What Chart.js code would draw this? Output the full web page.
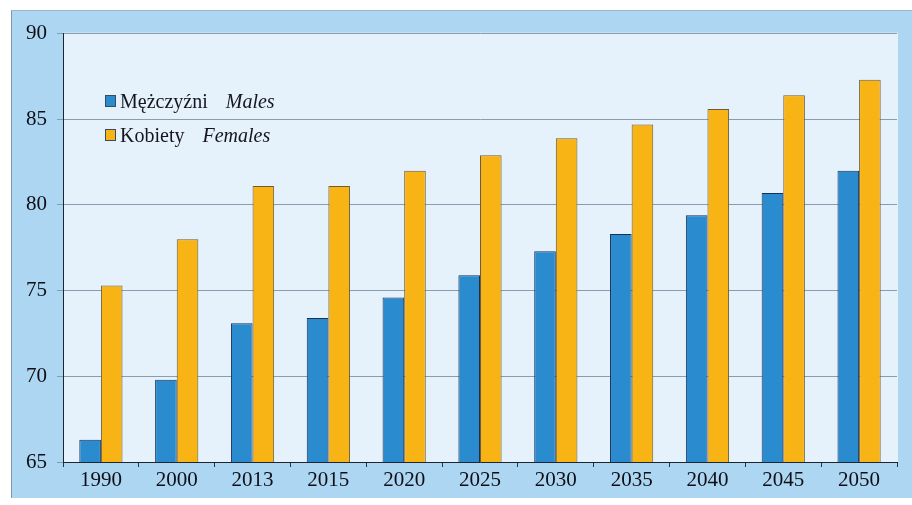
<!DOCTYPE html>
<html>
<head>
<meta charset="utf-8">
<script src="https://cdn.jsdelivr.net/npm/chart.js@4/dist/chart.umd.min.js"></script>
<style>
  html, body { margin: 0; padding: 0; background: #ffffff; }
  #frame {
    position: absolute; left: 11px; top: 10px; width: 901px; height: 487px;
    background: #acd6f1; border-left: 1px solid #7d97ad; border-top: 1px solid #9bb6cc;
  }
  #frame canvas { position: absolute; left: 0; top: 0; }
  #legend {
    position: absolute; left: 93px; top: 73px;
    font-family: "Liberation Serif", "DejaVu Serif", serif; font-size: 20px; color: #15151f;
  }
  #legend .row { display: flex; align-items: center; height: 34px; }
  #legend .box { width: 9px; height: 10px; margin-right: 4px; border: 1px solid #3a4a60; }
  #legend i { margin-left: 18px; }
</style>
</head>
<body>
<div id="frame">
  <canvas id="bar-chart"></canvas>
  <div id="legend"></div>
</div>
<script>
var years = ['1990','2000','2013','2015','2020','2025','2030','2035','2040','2045','2050'];
var males = [66.3, 69.8, 73.1, 73.4, 74.6, 75.9, 77.3, 78.3, 79.4, 80.7, 82.0];
var females = [75.3, 78.0, 81.1, 81.1, 82.0, 82.9, 83.9, 84.7, 85.6, 86.4, 87.3];
var labelsPl = ['Mężczyźni', 'Kobiety'];
var labelsEn = ['Males', 'Females'];
var yTicks = [65, 70, 75, 80, 85, 90];

var ctx = document.getElementById('bar-chart');
ctx.width = 901;
ctx.height = 487;

// light inner panel behind the bars
var plotBg = {
	id: 'plotBg',
	beforeDraw: function(chart) {
		var a = chart.chartArea;
		var c = chart.ctx;
		c.save();
		c.fillStyle = '#e5f2fb';
		c.fillRect(a.left, a.top - 1, a.right - a.left + 1, a.bottom - a.top + 1);
		c.restore();
	}
};

var myBarChart = new Chart(ctx, {
	type: 'bar',
	data: {
		labels: years,
		datasets: [
			{
				label: labelsPl[0] + ' ' + labelsEn[0],
				data: males,
				backgroundColor: '#2a8ccf',
				borderColor: '#1b2f55',
				borderWidth: 1,
				borderSkipped: 'bottom',
				barPercentage: 1,
				categoryPercentage: 0.57
			},
			{
				label: labelsPl[1] + ' ' + labelsEn[1],
				data: females,
				backgroundColor: '#f8b414',
				borderColor: '#6b5c3a',
				borderWidth: 1,
				borderSkipped: 'bottom',
				barPercentage: 1,
				categoryPercentage: 0.57
			}
		]
	},
	options: {
		responsive: false,
		animation: false,
		layout: { padding: { top: 22, right: 16, left: 0, bottom: 0 } },
		plugins: {
			legend: { display: false },
			tooltip: { enabled: false }
		},
		scales: {
			x: {
				grid: { offset: true, drawOnChartArea: false, tickLength: 5, color: '#2a3444' },
				border: { color: '#1e2430', width: 1 },
				ticks: {
					color: '#0e0e14',
					font: { family: 'Liberation Serif', size: 21 },
					padding: 1,
					maxRotation: 0
				},
				afterFit: function(scale) { scale.height = 36; }
			},
			y: {
				min: 65,
				max: 90,
				afterBuildTicks: function(scale) {
					scale.ticks = yTicks.map(function(v) { return { value: v }; });
				},
				grid: { color: '#8a9cb0', tickLength: 6, lineWidth: 1 },
				border: { color: '#1e2430', width: 1 },
				ticks: {
					color: '#0e0e14',
					font: { family: 'Liberation Serif', size: 21 },
					padding: 10
				},
				afterFit: function(scale) { scale.width = 51; }
			}
		}
	},
	plugins: [plotBg]
});

// two-line legend with Polish name and italic English name
var legend = document.getElementById('legend');
myBarChart.data.datasets.forEach(function(ds, i) {
	var row = document.createElement('div');
	row.className = 'row';
	var box = document.createElement('span');
	box.className = 'box';
	box.style.background = ds.backgroundColor;
	row.appendChild(box);
	row.appendChild(document.createTextNode(labelsPl[i]));
	var en = document.createElement('i');
	en.textContent = labelsEn[i];
	row.appendChild(en);
	legend.appendChild(row);
});
</script>
</body>
</html>
